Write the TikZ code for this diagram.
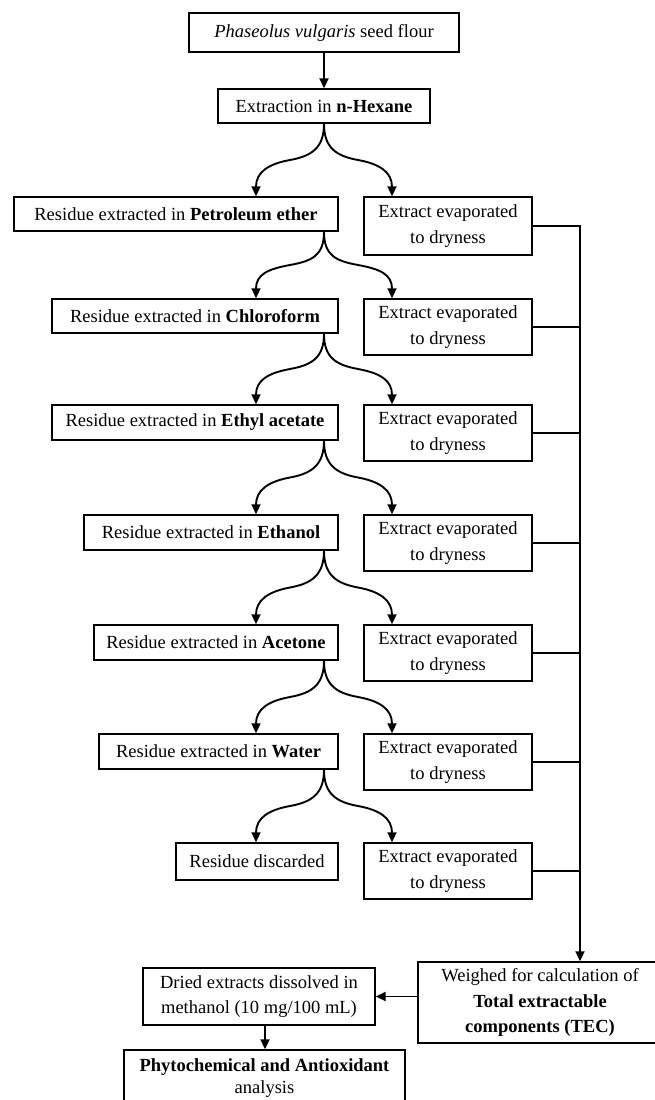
\documentclass[tikz,border=0pt]{standalone}
\usepackage{fontspec}
\setmainfont{Liberation Serif}
\usetikzlibrary{arrows.meta,calc}
\newcommand\splitto[3]{%
  \draw[conn] (#1.south -| M) .. controls +(0,24) and +(22,-4) ..
    ($(#1.south -| M)!0.5!(#2.north -| L)$) .. controls +(-22,4) and +(0,-24) .. (#2.north -| L);
  \draw[conn] (#1.south -| M) .. controls +(0,24) and +(-22,-4) ..
    ($(#1.south -| M)!0.5!(#3.north -| R)$) .. controls +(22,4) and +(0,-24) .. (#3.north -| R);
}
\begin{document}
\begin{tikzpicture}[x=1pt,y=-1pt,
  box/.style={draw, line width=1.4pt, rectangle, inner sep=2pt, align=center,
              font=\fontsize{18.5}{25.5}\selectfont},
  conn/.style={line width=1.9pt, -{Triangle[length=10pt,width=9pt]}},
  link/.style={line width=1.4pt},
]
\useasboundingbox (0,0) rectangle (654,1100);
\coordinate (M) at (324,0);
\coordinate (L) at (256,0);
\coordinate (R) at (392,0);
\coordinate (V) at (580,0);
\coordinate (P) at (265,0);

\node[box, minimum width=270pt, minimum height=39pt] (seed) at (324,32.5) {\textit{Phaseolus vulgaris} seed flour};
\node[box, minimum width=212pt, minimum height=34pt] (hex) at (324,106) {Extraction in \textbf{n-Hexane}};

\node[box, minimum width=324pt, minimum height=34pt] (pet) at (176,214) {Residue extracted in \textbf{Petroleum ether}};
\node[box, minimum width=286pt, minimum height=34pt] (chl) at (195,316) {Residue extracted in \textbf{Chloroform}};
\node[box, minimum width=286pt, minimum height=35pt] (eta) at (195,422.5) {Residue extracted in \textbf{Ethyl acetate}};
\node[box, minimum width=254pt, minimum height=35pt] (eoh) at (211,532.5) {Residue extracted in \textbf{Ethanol}};
\node[box, minimum width=244pt, minimum height=35pt] (ace) at (216,642.5) {Residue extracted in \textbf{Acetone}};
\node[box, minimum width=239pt, minimum height=35pt] (wat) at (218.5,751.5) {Residue extracted in \textbf{Water}};
\node[box, minimum width=162pt, minimum height=37pt] (dis) at (257,861.5) {Residue discarded};

\node[box, minimum width=168pt, minimum height=58pt] (e1) at (448,226) {Extract evaporated\\to dryness};
\node[box, minimum width=168pt, minimum height=56pt] (e2) at (448,327) {Extract evaporated\\to dryness};
\node[box, minimum width=168pt, minimum height=56pt] (e3) at (448,433) {Extract evaporated\\to dryness};
\node[box, minimum width=168pt, minimum height=56pt] (e4) at (448,543) {Extract evaporated\\to dryness};
\node[box, minimum width=168pt, minimum height=56pt] (e5) at (448,653) {Extract evaporated\\to dryness};
\node[box, minimum width=168pt, minimum height=56pt] (e6) at (448,762) {Extract evaporated\\to dryness};
\node[box, minimum width=168pt, minimum height=56pt] (e7) at (448,871) {Extract evaporated\\to dryness};

\node[box, minimum width=244pt, minimum height=81pt] (tec) at (540,1002.5) {Weighed for calculation of\\\textbf{Total extractable}\\\textbf{components (TEC)}};
\node[box, minimum width=232pt, minimum height=57pt] (dried) at (259,996.5) {Dried extracts dissolved in\\methanol (10 mg/100 mL)};
\node[box, minimum width=281pt, minimum height=56pt, font=\fontsize{18.5}{22.5}\selectfont] (phy) at (264.5,1078) {\textbf{Phytochemical and Antioxidant}\\analysis};

\draw[conn] (seed.south -| M) -- (hex.north -| M);
\splitto{hex}{pet}{e1}
\splitto{pet}{chl}{e2}
\splitto{chl}{eta}{e3}
\splitto{eta}{eoh}{e4}
\splitto{eoh}{ace}{e5}
\splitto{ace}{wat}{e6}
\splitto{wat}{dis}{e7}

\draw[conn] (e1.east) -- (e1.east -| V) -- (tec.north -| V);
\foreach \e in {e2,e3,e4,e5,e6,e7}{\draw[link] (\e.east) -- (\e.east -| V);}

\draw[conn] (tec.west |- dried.east) -- (dried.east);
\draw[conn] (dried.south -| P) -- (phy.north -| P);
\end{tikzpicture}
\end{document}
